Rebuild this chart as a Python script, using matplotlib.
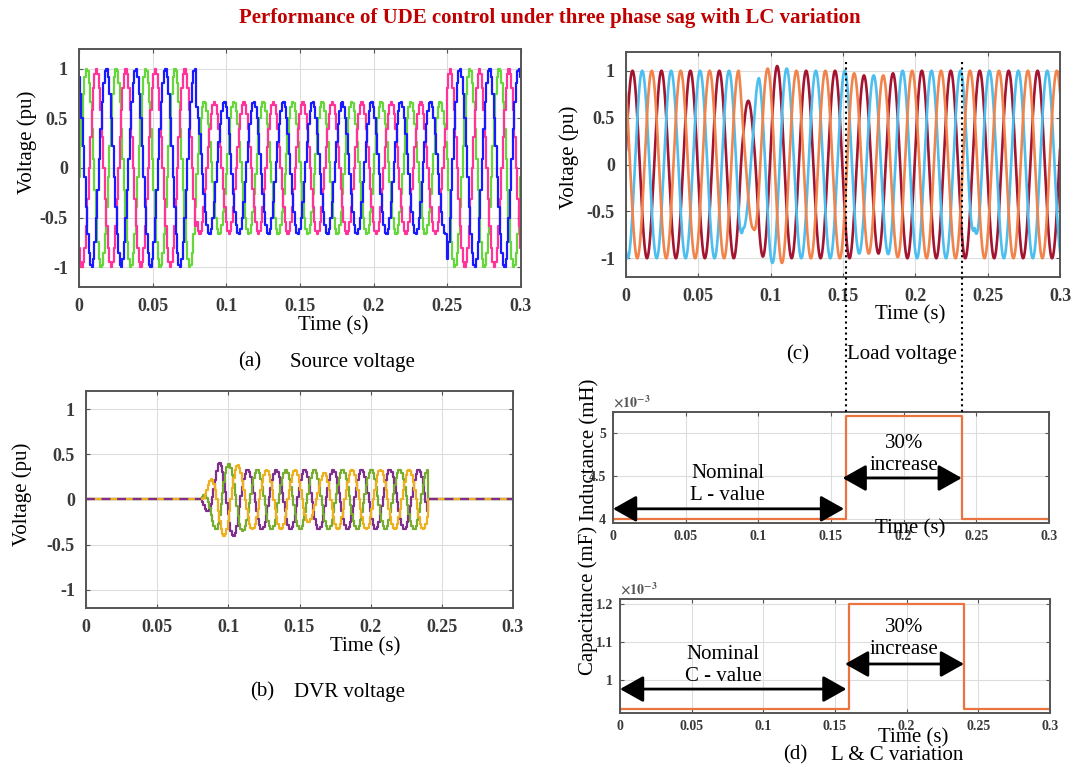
import numpy as np
import matplotlib.pyplot as plt
from matplotlib.lines import Line2D
from matplotlib.transforms import blended_transform_factory

plt.rcParams['font.family'] = ['Liberation Serif', 'DejaVu Serif']
plt.rcParams['mathtext.fontset'] = 'stix'

W, H = 1072, 765
f = 50.0
w = 2 * np.pi * f

# (a) source voltage: time of first peak per phase, sag segments
src_peaks = [0.0053, 0.0120, 0.0187]
src_colors = ['#66d63a', '#ff3399', '#1a1aff']
src_seg_t = [0.0, 0.08, 0.25]
src_seg_amp = [1.0, 0.67, 1.0]

# (b) DVR voltage
dvr_peaks = [0.0937, 0.1004, 0.1070]
dvr_colors = ['#7e2f8e', '#77ac30', '#edb120']
dvr_env_t = [0.0, 0.081, 0.093, 0.105, 0.112, 0.2400, 0.2401, 0.3]
dvr_env_amp = [0.0, 0.0, 0.40, 0.40, 0.33, 0.33, 0.0, 0.0]
ylw_dip_t = [0.0, 0.152, 0.160, 0.170, 0.3]
ylw_dip_amp = [1.0, 1.0, 0.6, 1.0, 1.0]

# (c) load voltage
load_peaks = [0.0045, 0.0112, 0.0178]
load_colors = ['#a2142f', '#4dbeee', '#f0844c']
load_env_t = [0.0, 0.078, 0.081, 0.088, 0.092, 0.100, 0.109, 0.113,
              0.155, 0.160, 0.180, 0.190, 0.3]
load_env_amp = [1.0, 1.0, 0.68, 0.68, 0.95, 1.05, 1.05, 1.0,
                1.0, 0.95, 0.95, 1.0, 1.0]
blue_dip_t = [0.0, 0.237, 0.241, 0.245, 0.3]
blue_dip_amp = [1.0, 1.0, 0.68, 1.0, 1.0]

# (d) L and C step change
lc_t = [0.0, 0.16, 0.24, 0.3]
ind_vals = [4.0e-3, 5.2e-3, 4.0e-3, 4.0e-3]
cap_vals = [0.923e-3, 1.2e-3, 0.923e-3, 0.923e-3]

xt = [0, 0.05, 0.1, 0.15, 0.2, 0.25, 0.3]
xtl = ['0', '0.05', '0.1', '0.15', '0.2', '0.25', '0.3']


def box(l, t, r, b):
    return [l / W, 1 - b / H, (r - l) / W, (b - t) / H]


def ftext(x, y, s, **kw):
    kw.setdefault('ha', 'center')
    kw.setdefault('va', 'center')
    kw.setdefault('fontsize', 15)
    fig.text(x / W, 1 - y / H, s, **kw)


def style(ax, fs, pad, yt, ytl):
    ax.set_xlim(0, 0.3)
    ax.set_xticks(xt, xtl, fontweight='bold')
    ax.set_yticks(yt, ytl, fontweight='bold')
    ax.grid(True, color='#dddddd', lw=0.8)
    ax.set_axisbelow(True)
    ax.tick_params(direction='in', top=True, right=True, length=3, width=0.8,
                   color='#555555', labelsize=fs, labelcolor='#3a3a3a', pad=pad)
    for s in ax.spines.values():
        s.set_color('#555555')
        s.set_linewidth(1.4)


fig = plt.figure(figsize=(W / 100, H / 100), dpi=100)

# (a)
axA = fig.add_axes(box(79, 49, 521, 287))
ts = np.arange(0, 0.3 + 1e-9, 0.001)
amp = np.array(src_seg_amp)[np.searchsorted(src_seg_t, ts, side='right') - 1]
for pk, c in zip(src_peaks, src_colors):
    axA.plot(ts, amp * np.cos(w * (ts - pk)), color=c, lw=1.6, drawstyle='steps-mid')
axA.set_ylim(-1.2, 1.2)
style(axA, 13, 8, [-1, -0.5, 0, 0.5, 1], ['-1', '-0.5', '0', '0.5', '1'])

# (b)
axB = fig.add_axes(box(86, 391, 513, 608))
env = np.interp(ts, dvr_env_t, dvr_env_amp)
dips = [np.ones_like(ts), np.ones_like(ts), np.interp(ts, ylw_dip_t, ylw_dip_amp)]
for pk, c, d in zip(dvr_peaks, dvr_colors, dips):
    axB.plot(ts, env * d * np.cos(w * (ts - pk)), color=c, lw=1.6, drawstyle='steps-mid')
zero = np.where(env == 0, 0.0, np.nan)
axB.plot(ts, zero, color=dvr_colors[0], lw=1.6, ls=(0, (4, 3)))
axB.set_ylim(-1.2, 1.2)
style(axB, 13, 8, [-1, -0.5, 0, 0.5, 1], ['-1', '-0.5', '0', '0.5', '1'])

# (c)
axC = fig.add_axes(box(626, 52, 1060, 277))
tc = np.arange(0, 0.3 + 1e-9, 0.0001)
envc = np.interp(tc, load_env_t, load_env_amp)
dipc = [np.ones_like(tc), np.interp(tc, blue_dip_t, blue_dip_amp), np.ones_like(tc)]
for pk, c, d in zip(load_peaks, load_colors, dipc):
    axC.plot(tc, envc * d * np.cos(w * (tc - pk)), color=c, lw=1.9)
axC.set_ylim(-1.2, 1.2)
style(axC, 13, 8, [-1, -0.5, 0, 0.5, 1], ['-1', '-0.5', '0', '0.5', '1'])

# (d) inductance
axL = fig.add_axes(box(613, 412, 1049, 523))
axL.plot(lc_t, ind_vals, color='#e9743f', lw=1.6, drawstyle='steps-post')
axL.set_ylim(3.95e-3, 5.25e-3)
style(axL, 10, 5, [4e-3, 4.5e-3, 5e-3], ['4', '4.5', '5'])
axL.text(0, 1.01, r'$\mathbf{\times 10^{-3}}$', transform=axL.transAxes, fontsize=10,
         color='#555555', ha='left', va='bottom')

# (d) capacitance
axK = fig.add_axes(box(620, 599, 1050, 713))
axK.plot(lc_t, cap_vals, color='#e9743f', lw=1.6, drawstyle='steps-post')
axK.set_ylim(0.913e-3, 1.213e-3)
style(axK, 10, 5, [1e-3, 1.1e-3, 1.2e-3], ['1', '1.1', '1.2'])
axK.text(0, 1.01, r'$\mathbf{\times 10^{-3}}$', transform=axK.transAxes, fontsize=10,
         color='#555555', ha='left', va='bottom')

arrow = dict(arrowstyle='<|-|>,head_length=0.8,head_width=0.45', color='k',
             lw=2, mutation_scale=18, shrinkA=0, shrinkB=0)
axL.annotate('', xy=(0.0, 4.116e-3), xytext=(0.159, 4.116e-3), arrowprops=arrow)
axL.annotate('', xy=(0.158, 4.477e-3), xytext=(0.240, 4.477e-3), arrowprops=arrow)
axL.text(0.079, 4.40e-3, 'Nominal\nL - value', ha='center', va='center', fontsize=15)
axL.text(0.200, 4.75e-3, '30%\nincrease', ha='center', va='center', fontsize=15)
axK.annotate('', xy=(0.0, 0.976e-3), xytext=(0.158, 0.976e-3), arrowprops=arrow)
axK.annotate('', xy=(0.157, 1.042e-3), xytext=(0.240, 1.042e-3), arrowprops=arrow)
axK.text(0.072, 1.037e-3, 'Nominal\nC - value', ha='center', va='center', fontsize=15)
axK.text(0.198, 1.109e-3, '30%\nincrease', ha='center', va='center', fontsize=15)

# dotted guide lines from the L step up to the load voltage
trans = blended_transform_factory(axL.transData, fig.transFigure)
for tx in lc_t[1:3]:
    fig.add_artist(Line2D([tx, tx], [1 - 62 / H, 1 - 412 / H], transform=trans,
                          ls=':', color='k', lw=1.5))

# labels
ftext(27, 142, 'Voltage (pu)', rotation=90)
ftext(22, 494, 'Voltage (pu)', rotation=90)
ftext(569, 157, 'Voltage (pu)', rotation=90)
ftext(590, 450, 'Inductance (mH)', rotation=90)
ftext(588, 600, 'Capacitance (mF)', rotation=90)
ftext(333, 326, 'Time (s)')
ftext(365, 647, 'Time (s)')
ftext(910, 315, 'Time (s)')
ftext(910, 529, 'Time (s)')
ftext(913, 738, 'Time (s)')

ftext(250, 362, '(a)')
ftext(352, 362, 'Source voltage')
ftext(262, 692, '(b)')
ftext(350, 692, 'DVR voltage')
ftext(798, 355, '(c)')
ftext(902, 355, 'Load voltage')
ftext(795, 755, '(d)')
ftext(897, 755, 'L & C variation')

ftext(550, 18, 'Performance of UDE control under three phase sag with LC variation',
      fontsize=15, fontweight='bold', color='#c00000')

fig.savefig('out.png', dpi=100)
